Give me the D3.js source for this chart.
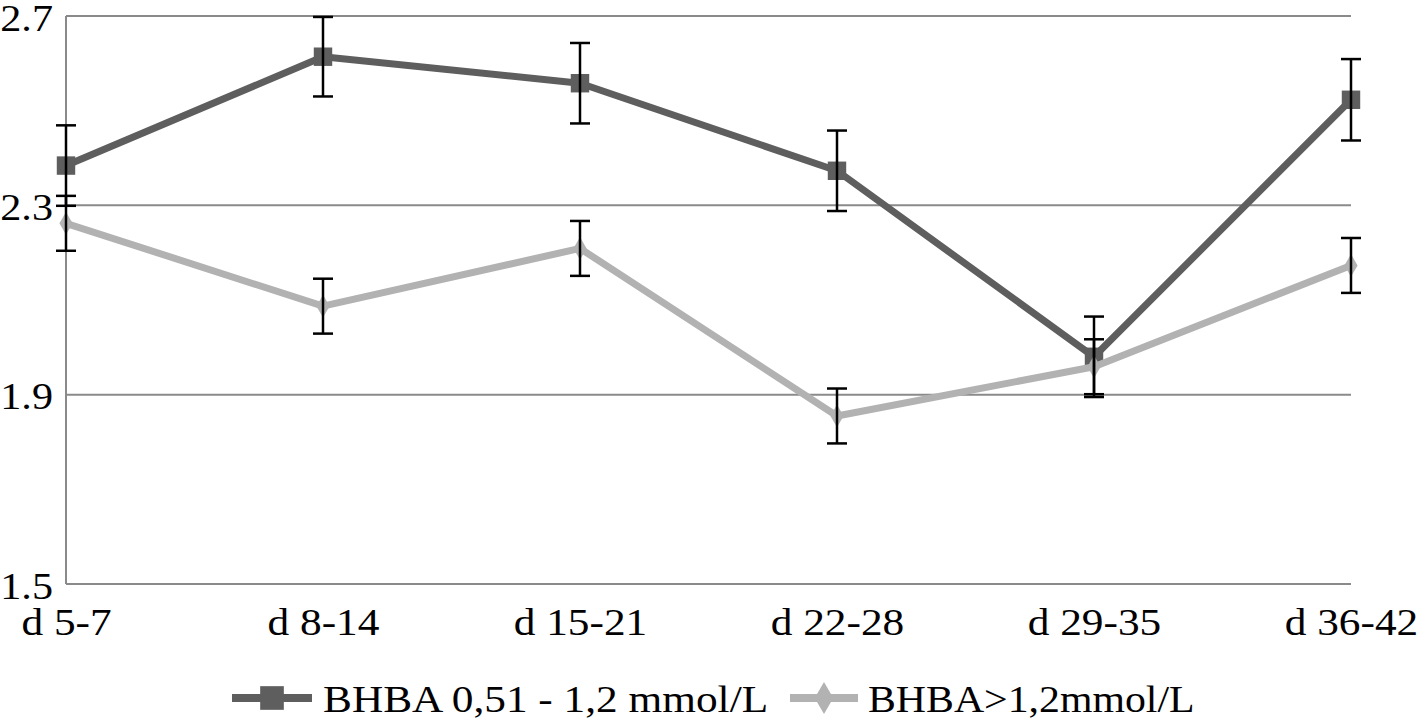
<!DOCTYPE html>
<html>
<head>
<meta charset="utf-8">
<script src="https://cdn.jsdelivr.net/npm/d3@7"></script>
<style>
  body { margin: 0; background: #fff; }
  text { font-family: "Liberation Serif", "Times New Roman", serif; fill: #000; }
</style>
</head>
<body>
<div class="chart"></div>
<script>
const days = ["d 5-7", "d 8-14", "d 15-21", "d 22-28", "d 29-35", "d 36-42"];
const lowGroup = [2.384, 2.614, 2.558, 2.373, 1.98, 2.523];
const lowErr = [0.085, 0.084, 0.085, 0.085, 0.085, 0.086];
const highGroup = [2.262, 2.087, 2.209, 1.855, 1.959, 2.173];
const highErr = [0.058, 0.058, 0.058, 0.058, 0.058, 0.058];
const yTicks = [1.5, 1.9, 2.3, 2.7];
const seriesNames = ["BHBA 0,51 - 1,2 mmol/L", "BHBA>1,2mmol/L"];

const width = 1418, height = 723;
const stretch = 1.14; // source text is a little wider than the font

const svg = d3.select(".chart").append("svg")
  .attr("width", width)
  .attr("height", height);

const xScale = d3.scalePoint().domain(days).range([66, 1351]);
const yScale = d3.scaleLinear().domain([1.5, 2.7]).range([584, 16]);

// grid
svg.append("g")
  .selectAll("line")
  .data(yTicks)
  .enter()
  .append("line")
  .attr("x1", 66)
  .attr("x2", 1351)
  .attr("y1", (d) => yScale(d))
  .attr("y2", (d) => yScale(d))
  .attr("stroke", "#8a8a8a")
  .attr("stroke-width", 2);

svg.append("line")
  .attr("x1", 66).attr("x2", 66)
  .attr("y1", yScale(2.7)).attr("y2", yScale(1.5))
  .attr("stroke", "#8a8a8a")
  .attr("stroke-width", 2);

// axes
const yAxis = d3.axisLeft(yScale).tickValues(yTicks).tickFormat(d3.format(".1f")).tickSize(0).tickPadding(0);
const yg = svg.append("g").attr("transform", "translate(66,0)").call(yAxis);
yg.select(".domain").remove();
yg.selectAll("text")
  .attr("x", 0)
  .attr("dy", 14)
  .attr("font-size", 37)
  .attr("transform", `translate(-13,0) scale(${stretch},1)`);

const xAxis = d3.axisBottom(xScale).tickSize(0).tickPadding(0);
const xg = svg.append("g").attr("transform", "translate(0,584)").call(xAxis);
xg.select(".domain").remove();
xg.selectAll("text")
  .attr("y", 51)
  .attr("dy", 0)
  .attr("font-size", 38)
  .attr("transform", `scale(${stretch},1)`);

const line = d3.line()
  .x((d, i) => xScale(days[i]))
  .y((d) => yScale(d));

const series = [
  { values: lowGroup, err: lowErr, color: "#5e5e5e", marker: "square" },
  { values: highGroup, err: highErr, color: "#b2b2b2", marker: "diamond" }
];

series.forEach((s) => {
  svg.append("path")
    .datum(s.values)
    .attr("d", line)
    .attr("fill", "none")
    .attr("stroke", s.color)
    .attr("stroke-width", 7)
    .attr("stroke-linejoin", "round");

  const sym = s.marker === "square"
    ? d3.symbol().type(d3.symbolSquare).size(340)
    : d3.symbol().type(d3.symbolDiamond).size(150);

  svg.append("g")
    .selectAll("path")
    .data(s.values)
    .enter()
    .append("path")
    .attr("d", sym)
    .attr("fill", s.color)
    .attr("transform", (d, i) => `translate(${xScale(days[i])},${yScale(d)})`);
});

// error bars
series.forEach((s) => {
  const g = svg.append("g").attr("stroke", "#000").attr("stroke-width", 2.5);
  s.values.forEach((v, i) => {
    const x = xScale(days[i]);
    const top = yScale(v + s.err[i]);
    const bot = yScale(v - s.err[i]);
    g.append("line").attr("x1", x).attr("x2", x).attr("y1", top).attr("y2", bot);
    g.append("line").attr("x1", x - 10).attr("x2", x + 10).attr("y1", top).attr("y2", top);
    g.append("line").attr("x1", x - 10).attr("x2", x + 10).attr("y1", bot).attr("y2", bot);
  });
});

// legend
const legendItems = [
  { x1: 232, x2: 312, tx: 323, color: "#5e5e5e", sym: d3.symbol().type(d3.symbolSquare).size(560) },
  { x1: 790, x2: 858, tx: 868, color: "#b2b2b2", sym: d3.symbol().type(d3.symbolDiamond).size(300) }
];
const legendY = 698;

legendItems.forEach((it, i) => {
  svg.append("line")
    .attr("x1", it.x1).attr("x2", it.x2)
    .attr("y1", legendY).attr("y2", legendY)
    .attr("stroke", it.color)
    .attr("stroke-width", 8);
  svg.append("path")
    .attr("d", it.sym)
    .attr("fill", it.color)
    .attr("transform", `translate(${(it.x1 + it.x2) / 2},${legendY})`);
  svg.append("text")
    .attr("transform", `translate(${it.tx},712) scale(${i === 0 ? stretch : 1.1},1)`)
    .attr("font-size", 38)
    .text(seriesNames[i]);
});
</script>
</body>
</html>
